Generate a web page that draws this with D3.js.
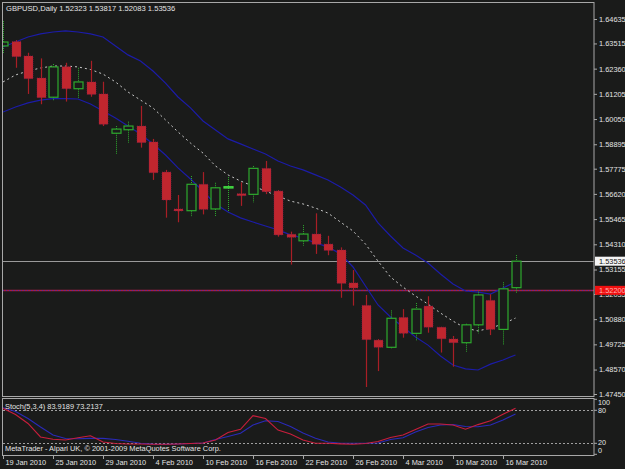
<!DOCTYPE html>
<html>
<head>
<meta charset="utf-8">
<script src="https://cdn.jsdelivr.net/npm/d3@7"></script>
<style>
  body { margin: 0; background: #1a1b1a; }
  svg { display: block; }
  text { font-family: "Liberation Sans", Arial, sans-serif; fill: #e4e4e4; }
</style>
</head>
<body>
<svg id="chart" width="625" height="469"></svg>
<script>
// daily bars, 19 Jan 2010 .. 17 Mar 2010
const dates = [
  "2010-01-19", "2010-01-20", "2010-01-21", "2010-01-22", "2010-01-25", "2010-01-26",
  "2010-01-27", "2010-01-28", "2010-01-29", "2010-02-01", "2010-02-02", "2010-02-03",
  "2010-02-04", "2010-02-05", "2010-02-08", "2010-02-09", "2010-02-10", "2010-02-11",
  "2010-02-12", "2010-02-15", "2010-02-16", "2010-02-17", "2010-02-18", "2010-02-19",
  "2010-02-22", "2010-02-23", "2010-02-24", "2010-02-25", "2010-02-26", "2010-03-01",
  "2010-03-02", "2010-03-03", "2010-03-04", "2010-03-05", "2010-03-08", "2010-03-09",
  "2010-03-10", "2010-03-11", "2010-03-12", "2010-03-15", "2010-03-16", "2010-03-17"
];
const open = [
  1.6340, 1.6360, 1.6294, 1.6193, 1.6105, 1.6245, 1.6144, 1.6175, 1.6120, 1.5940,
  1.5956, 1.5973, 1.5900, 1.5762, 1.5593, 1.5585, 1.5706, 1.5593, 1.5689, 1.5663,
  1.5660, 1.5779, 1.5675, 1.5477, 1.5447, 1.5478, 1.5432, 1.5405, 1.5254, 1.5151,
  1.4992, 1.4959, 1.5096, 1.5023, 1.5148, 1.5051, 1.4997, 1.4980, 1.5062, 1.5174,
  1.5041, 1.52323
];
const high = [
  1.6454, 1.6367, 1.6309, 1.6283, 1.6257, 1.6263, 1.6240, 1.6272, 1.6176, 1.5973,
  1.5993, 1.6065, 1.5914, 1.5772, 1.5657, 1.5744, 1.5762, 1.5713, 1.5739, 1.5715,
  1.5790, 1.5813, 1.5680, 1.5489, 1.5519, 1.5573, 1.5470, 1.5417, 1.5313, 1.5199,
  1.4997, 1.5128, 1.5134, 1.5162, 1.5193, 1.5053, 1.5011, 1.5067, 1.5214, 1.5202,
  1.5257, 1.53817
];
const low = [
  1.6308, 1.6240, 1.6120, 1.6073, 1.6089, 1.6085, 1.6100, 1.6107, 1.5973, 1.5845,
  1.5897, 1.5874, 1.5726, 1.5553, 1.5532, 1.5557, 1.5568, 1.5557, 1.5578, 1.5607,
  1.5622, 1.5661, 1.5466, 1.5338, 1.5425, 1.5387, 1.5381, 1.5186, 1.5150, 1.4777,
  1.4850, 1.4954, 1.5003, 1.4988, 1.5026, 1.4935, 1.4870, 1.4939, 1.5023, 1.5015,
  1.4971, 1.52083
];
const close = [
  1.6358, 1.6291, 1.6190, 1.6103, 1.6244, 1.6144, 1.6175, 1.6118, 1.5981, 1.5959,
  1.5973, 1.5897, 1.5759, 1.5634, 1.5584, 1.5706, 1.5591, 1.5690, 1.5695, 1.5660,
  1.5779, 1.5672, 1.5474, 1.5463, 1.5478, 1.5431, 1.5403, 1.5252, 1.5231, 1.4994,
  1.4959, 1.5092, 1.5023, 1.5134, 1.5051, 1.4998, 1.4980, 1.5062, 1.5199, 1.5041,
  1.5227, 1.53536
];

// bollinger bands as drawn
const bandUpper = [
  1.6335, 1.6358, 1.6381, 1.6395, 1.6404, 1.6409, 1.6404, 1.6395, 1.6381, 1.6340,
  1.6299, 1.6271, 1.6225, 1.6170, 1.6106, 1.6056, 1.5996, 1.5955, 1.5914, 1.5891,
  1.5868, 1.5845, 1.5813, 1.5790, 1.5772, 1.5749, 1.5726, 1.5694, 1.5657, 1.5611,
  1.5529, 1.5469, 1.5414, 1.5382, 1.5345, 1.5295, 1.5249, 1.5217, 1.5212, 1.5203,
  1.5231, 1.5258
];
const bandMiddle = [
  1.6175, 1.6207, 1.6225, 1.6239, 1.6248, 1.6248, 1.6244, 1.6232, 1.6211, 1.6175,
  1.6129, 1.6092, 1.6056, 1.6001, 1.5946, 1.5895, 1.5849, 1.5790, 1.5749, 1.5721,
  1.5698, 1.5675, 1.5652, 1.5629, 1.5616, 1.5597, 1.5574, 1.5533, 1.5492, 1.5432,
  1.5354, 1.5281, 1.5235, 1.5194, 1.5157, 1.5116, 1.5079, 1.5047, 1.5034, 1.5047,
  1.5066, 1.5093
];
const bandLower = [
  1.6037, 1.6060, 1.6079, 1.6092, 1.6099, 1.6099, 1.6097, 1.6074, 1.6042, 1.6010,
  1.5973, 1.5936, 1.5891, 1.5840, 1.5781, 1.5730, 1.5675, 1.5616, 1.5579, 1.5552,
  1.5533, 1.5515, 1.5497, 1.5474, 1.5460, 1.5437, 1.5419, 1.5387, 1.5327, 1.5240,
  1.5153, 1.5098, 1.5052, 1.5006, 1.4969, 1.4919, 1.4878, 1.4860, 1.4855, 1.4882,
  1.4901, 1.4924
];

// Stoch(5,3,4)
const stochMain = [
  83.6, 72.4, 56.0, 31.5, 27.3, 26.0, 30.0, 33.8, 22.4, 19.6,
  18.7, 18.7, 18.2, 18.2, 18.7, 19.6, 20.5, 26.0, 39.6, 45.5,
  70.2, 65.0, 44.0, 37.0, 26.0, 20.0, 20.0, 19.0, 18.2, 19.6,
  23.3, 30.5, 35.0, 45.0, 55.0, 55.0, 53.3, 45.5, 54.0, 61.0,
  72.7, 83.9189
];
const stochSignal = [
  84.7, 77.8, 65.0, 49.6, 35.0, 28.7, 28.2, 29.0, 29.0, 27.0,
  23.6, 20.0, 18.7, 18.2, 18.7, 19.6, 20.5, 27.0, 32.4, 38.2,
  53.3, 61.0, 59.6, 50.5, 38.7, 29.0, 22.4, 20.0, 20.0, 20.0,
  20.5, 27.0, 30.2, 40.5, 48.7, 53.3, 54.2, 50.5, 50.2, 53.3,
  62.4, 73.2137
];

const priceTicks = [
  1.64635, 1.63515, 1.62360, 1.61205, 1.60050, 1.58895, 1.57775, 1.56620,
  1.55465, 1.54310, 1.53155, 1.52035, 1.50880, 1.49725, 1.48570, 1.47450
];
const stochLevels = [0, 20, 80, 100];
const lastPrice = 1.53536;
const hLinePrice = 1.52200;

const svg = d3.select("#chart");
const W = 625, H = 469;
const right = 594;

svg.append("rect").attr("width", W).attr("height", H).attr("fill", "#1a1b1a");

const parse = d3.timeParse("%Y-%m-%d");
const fmtDate = d3.timeFormat("%-d %b %Y");

const x = d3.scaleLinear().domain([0, dates.length - 1]).range([3, 3 + 12.5 * (dates.length - 1)]);
const y = d3.scaleLinear().domain([1.47450, 1.64635]).range([394, 19]);
const ys = d3.scaleLinear().domain([0, 100]).range([454.3, 399.3]);

const bars = dates.map((d, i) => ({
  i, date: parse(d), o: open[i], h: high[i], l: low[i], c: close[i]
}));

svg.append("clipPath").attr("id", "mainClip")
  .append("rect").attr("x", 3).attr("y", 3).attr("width", right - 3).attr("height", 393);
svg.append("clipPath").attr("id", "stochClip")
  .append("rect").attr("x", 3).attr("y", 400).attr("width", right - 3).attr("height", 55);

const main = svg.append("g").attr("clip-path", "url(#mainClip)");

// horizontal lines
main.append("line")
  .attr("x1", 3).attr("x2", right)
  .attr("y1", Math.round(y(lastPrice)) + 0.5).attr("y2", Math.round(y(lastPrice)) + 0.5)
  .attr("stroke", "#9a9a9a");
main.append("line")
  .attr("x1", 3).attr("x2", right)
  .attr("y1", Math.round(y(hLinePrice)) + 0.5).attr("y2", Math.round(y(hLinePrice)) + 0.5)
  .attr("stroke", "#a81e48").attr("stroke-width", 1.5);
main.append("line")
  .attr("x1", 3).attr("x2", right)
  .attr("y1", Math.round(y(hLinePrice)) + 0.5).attr("y2", Math.round(y(hLinePrice)) + 0.5)
  .attr("stroke", "#5a2a9a").attr("stroke-dasharray", "1,2");

// bands
const bandLine = (arr) => d3.line().x((d, i) => x(i)).y((d) => y(d))(arr);
main.append("path").attr("d", bandLine(bandUpper))
  .attr("fill", "none").attr("stroke", "#1c1ca8").attr("stroke-width", 1.2);
main.append("path").attr("d", bandLine(bandLower))
  .attr("fill", "none").attr("stroke", "#1c1ca8").attr("stroke-width", 1.2);
main.append("path").attr("d", bandLine(bandMiddle))
  .attr("fill", "none").attr("stroke", "#c8c8c8").attr("stroke-dasharray", "2,3");

// candles
const bw = 9;
const candle = main.selectAll(".candle").data(bars).join("g").attr("class", "candle");

candle.each(function (d) {
  const g = d3.select(this);
  const cx = Math.round(x(d.i)) + 0.5;
  const up = d.c >= d.o;
  const top = y(Math.max(d.o, d.c)), bot = y(Math.min(d.o, d.c));
  if (up) {
    g.append("line").attr("x1", cx).attr("x2", cx).attr("y1", y(d.h)).attr("y2", top)
      .attr("stroke", "#2eaa2e").attr("stroke-dasharray", "1,1");
    g.append("line").attr("x1", cx).attr("x2", cx).attr("y1", bot).attr("y2", y(d.l))
      .attr("stroke", "#2eaa2e").attr("stroke-dasharray", "1,1");
    g.append("rect")
      .attr("x", cx - bw / 2).attr("y", top)
      .attr("width", bw).attr("height", Math.max(1, bot - top))
      .attr("fill", "#1a1b1a").attr("stroke", bot - top < 2 ? "#44e044" : "#2eaa2e")
      .attr("stroke-width", 1.2);
  } else {
    g.append("line").attr("x1", cx).attr("x2", cx).attr("y1", y(d.h)).attr("y2", y(d.l))
      .attr("stroke", "#a81e26").attr("stroke-width", 1.2);
    g.append("rect")
      .attr("x", cx - bw / 2).attr("y", top)
      .attr("width", bw).attr("height", Math.max(2, bot - top))
      .attr("fill", "#c0262e").attr("stroke", "#8a2050").attr("stroke-width", 0.6)
      .attr("stroke-dasharray", "1,1");
  }
});

// stochastic panel
const stoch = svg.append("g").attr("clip-path", "url(#stochClip)");
stoch.selectAll(".level").data([20, 80]).join("line")
  .attr("x1", 3).attr("x2", right)
  .attr("y1", (d) => Math.round(ys(d)) + 0.5).attr("y2", (d) => Math.round(ys(d)) + 0.5)
  .attr("stroke", "#a0a0a0").attr("stroke-dasharray", "2,2");
const sLine = d3.line().x((d, i) => x(i)).y((d) => ys(d));
stoch.append("path").attr("d", sLine(stochSignal))
  .attr("fill", "none").attr("stroke", "#2a2ab8").attr("stroke-width", 1.1);
stoch.append("path").attr("d", sLine(stochMain))
  .attr("fill", "none").attr("stroke", "#c81e3c").attr("stroke-width", 1.1);

// frames
svg.append("rect").attr("x", 2.5).attr("y", 2.5).attr("width", right - 2.5).attr("height", 394)
  .attr("fill", "none").attr("stroke", "#a8a8a8");
svg.append("rect").attr("x", 2.5).attr("y", 398.5).attr("width", right - 2.5).attr("height", 57)
  .attr("fill", "none").attr("stroke", "#a8a8a8");

// price axis
const yAxis = svg.append("g")
  .attr("transform", `translate(${right},0)`)
  .call(d3.axisRight(y).tickValues(priceTicks).tickSize(3).tickPadding(2)
    .tickFormat(d3.format(".5f")));
yAxis.select(".domain").remove();
yAxis.selectAll("line").attr("stroke", "#a8a8a8");
yAxis.selectAll("text").attr("font-size", 7.4).attr("fill", "#e4e4e4")
  .attr("font-family", "Liberation Sans, Arial, sans-serif");

// price labels for lines
const tagLast = svg.append("g").attr("transform", `translate(${right + 1},${y(lastPrice)})`);
tagLast.append("rect").attr("x", 0).attr("y", -4.5).attr("width", 30).attr("height", 9).attr("fill", "#f4f4f4");
tagLast.append("text").attr("x", 4).attr("y", 3).attr("font-size", 7.4).style("fill", "#111").text(d3.format(".5f")(lastPrice));
const tagLine = svg.append("g").attr("transform", `translate(${right + 1},${y(hLinePrice)})`);
tagLine.append("rect").attr("x", 0).attr("y", -4.5).attr("width", 30).attr("height", 9).attr("fill", "#f01010");
tagLine.append("text").attr("x", 4).attr("y", 3).attr("font-size", 7.4).style("fill", "#ffb0b0").text(d3.format(".5f")(hLinePrice));

// stoch axis
const sAxis = svg.append("g").attr("transform", `translate(${right},0)`);
sAxis.selectAll("line").data(stochLevels).join("line")
  .attr("x1", 0).attr("x2", 3)
  .attr("y1", (d) => ys(d)).attr("y2", (d) => ys(d))
  .attr("stroke", "#a8a8a8");
sAxis.selectAll("text").data(stochLevels).join("text")
  .attr("x", 4)
  .attr("y", (d) => d === 0 ? 453 : d === 20 ? 445 : d === 100 ? 405 : ys(d) + 2.7)
  .attr("font-size", 7.2)
  .text((d) => d);

// date axis
const xAxis = svg.append("g")
  .attr("transform", "translate(0,456)")
  .call(d3.axisBottom(x).tickValues(d3.range(0, dates.length, 4)).tickSize(3).tickPadding(1)
    .tickFormat((i) => fmtDate(parse(dates[i]))));
xAxis.select(".domain").remove();
xAxis.selectAll("line").attr("stroke", "#a8a8a8");
xAxis.selectAll("text").attr("text-anchor", "start").attr("x", 2)
  .attr("font-size", 7.4).attr("fill", "#e4e4e4")
  .attr("font-family", "Liberation Sans, Arial, sans-serif");

// captions
svg.append("text").attr("x", 6).attr("y", 11).attr("font-size", 7.6)
  .text(`GBPUSD,Daily  ${[open, high, low, close].map((a) => d3.format(".5f")(a[a.length - 1])).join(" ")}`);
svg.append("text").attr("x", 5).attr("y", 409).attr("font-size", 7.4)
  .text(`Stoch(5,3,4) ${stochMain[stochMain.length - 1].toFixed(4)} ${stochSignal[stochSignal.length - 1].toFixed(4)}`);
svg.append("text").attr("x", 5).attr("y", 451).attr("font-size", 7.4)
  .text("MetaTrader - Alpari UK, © 2001-2009 MetaQuotes Software Corp.");
</script>
</body>
</html>
